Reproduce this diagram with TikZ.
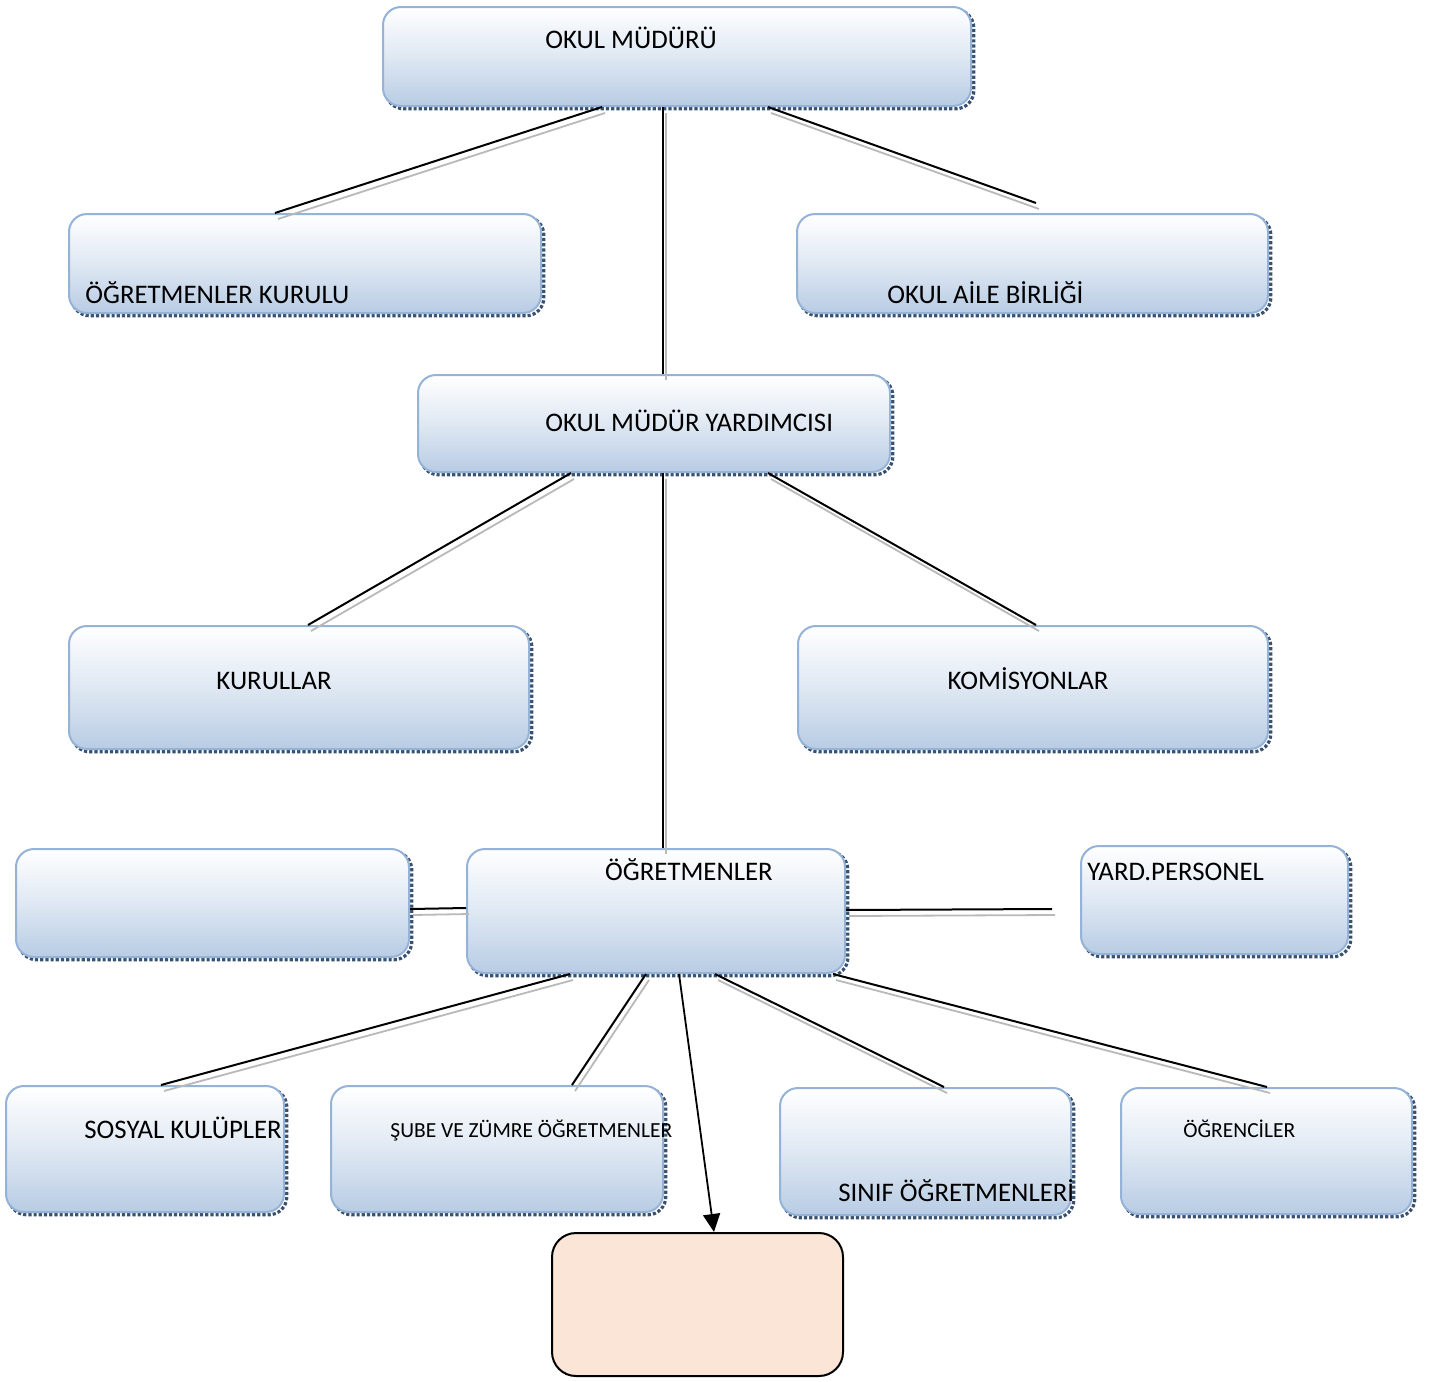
\documentclass[tikz,border=0pt]{standalone}
\usepackage{fontspec}
\setmainfont{Carlito}
\usetikzlibrary{arrows.meta,shadows,positioning}
\definecolor{boxline}{RGB}{149,179,215}
\definecolor{boxbottom}{RGB}{184,204,228}
\definecolor{boxshadow}{RGB}{36,63,96}
\definecolor{peach}{RGB}{251,229,214}

\begin{document}
\begin{tikzpicture}[x=0.5pt,y=-0.5pt]
	\tikzset{
		orgbox/.style={draw=boxline, line width=1pt, rounded corners=9pt, top color=white, bottom color=boxbottom, middle color=boxbottom!45!white, drop shadow={shadow xshift=1.4pt, shadow yshift=-1.4pt, opacity=.9, fill=none, draw=boxshadow, line width=1.6pt, densely dotted}},
		boxtext/.style={font=\fontsize{13.4}{16}\selectfont, inner sep=0pt},
		smalltext/.style={font=\fontsize{10.75}{12.9}\selectfont, inner sep=0pt},
		link/.style={draw=black, line width=1pt, preaction={draw=gray!55, line width=0.9pt, transform canvas={shift={(1.5pt,-3pt)}}}},
		arrow/.style={-{Triangle[length=9pt,width=8.5pt]}, line width=0.9pt},
	}

	\path[fill=white, use as bounding box] (0,0) rectangle (1434,1381);

	% boxes
	\node[orgbox, minimum width=294pt, minimum height=49.5pt] (mudur) at (677,56.5) {};
	\node[orgbox, minimum width=236pt, minimum height=49.5pt] (ogrkurul) at (305,263.5) {};
	\node[orgbox, minimum width=235.5pt, minimum height=49.5pt] (aile) at (1032.5,263.5) {};
	\node[orgbox, minimum width=236pt, minimum height=48.5pt] (yardimci) at (654,423.5) {};
	\node[orgbox, minimum width=230pt, minimum height=61.5pt] (kurullar) at (299,687.5) {};
	\node[orgbox, minimum width=235pt, minimum height=61.5pt] (komisyon) at (1033,687.5) {};
	\node[orgbox, minimum width=196.5pt, minimum height=54pt] (bos) at (212.5,903) {};
	\node[orgbox, minimum width=189pt, minimum height=62pt] (ogretmen) at (656,911) {};
	\node[orgbox, minimum width=133.5pt, minimum height=54pt] (yardper) at (1214.5,900) {};
	\node[orgbox, minimum width=139pt, minimum height=63pt] (kulup) at (145,1149) {};
	\node[orgbox, minimum width=166pt, minimum height=63pt] (zumre) at (497,1149) {};
	\node[orgbox, minimum width=145.5pt, minimum height=63.5pt] (sinif) at (925.5,1151.5) {};
	\node[orgbox, minimum width=145.5pt, minimum height=63pt] (ogrenci) at (1266.5,1151) {};
	\node[draw=black, line width=1pt, fill=peach, rounded corners=12pt, minimum width=145.5pt, minimum height=71.5pt] (ekbirim) at (697.5,1304.5) {};

	% texts
	\node[boxtext, anchor=base west] (mudurtxt) at (545,48) {OKUL MÜDÜRÜ};
	\node[boxtext, anchor=base west] (ogrkurultxt) at (85,303) {ÖĞRETMENLER KURULU};
	\node[boxtext, anchor=base west] (ailetxt) at (887,303) {OKUL AİLE BİRLİĞİ};
	\node[boxtext, anchor=base west] (yardimcitxt) at (545,431) {OKUL MÜDÜR YARDIMCISI};
	\node[boxtext, anchor=base] (kurullartxt) at (274,689) {KURULLAR};
	\node[boxtext, anchor=base] (komisyontxt) at (1028,689) {KOMİSYONLAR};
	\node[boxtext, anchor=base] (ogretmentxt) at (689,880) {ÖĞRETMENLER};
	\node[boxtext, anchor=base west] (yardpertxt) at (1087,880) {YARD.PERSONEL};
	\node[boxtext, anchor=base west] (kuluptxt) at (84,1138) {SOSYAL KULÜPLER};
	\node[smalltext, anchor=base west] (zumretxt) at (390,1137) {ŞUBE VE ZÜMRE ÖĞRETMENLER};
	\node[boxtext, anchor=base west] (siniftxt) at (838,1201) {SINIF ÖĞRETMENLERİ};
	\node[smalltext, anchor=base west] (ogrencitxt) at (1183,1137) {ÖĞRENCİLER};

	% connectors
	\coordinate (aileend) at (1036,203);
	\coordinate (yardend) at (1052,909);

	\foreach \src/\xa/\dst/\xb in {mudur/602/ogrkurul/275, mudur/663/yardimci/663, yardimci/571/kurullar/308, yardimci/663/ogretmen/663, yardimci/768/komisyon/1036, ogretmen/570/kulup/161, ogretmen/646/zumre/572, ogretmen/715/sinif/944, ogretmen/833/ogrenci/1267}
		{
			\draw[link] (\src.south -| \xa,0) -- (\dst.north -| \xb,0);
		}

	\draw[link] (mudur.south -| 768,0) -- (aileend);
	\draw[link] (bos.east |- 0,909) -- (ogretmen.west |- 0,908);
	\draw[link] (ogretmen.east |- 0,910) -- (yardend);
	\draw[arrow] (ogretmen.south -| 679,0) -- (ekbirim.north -| 714,0);

\end{tikzpicture}
\end{document}
